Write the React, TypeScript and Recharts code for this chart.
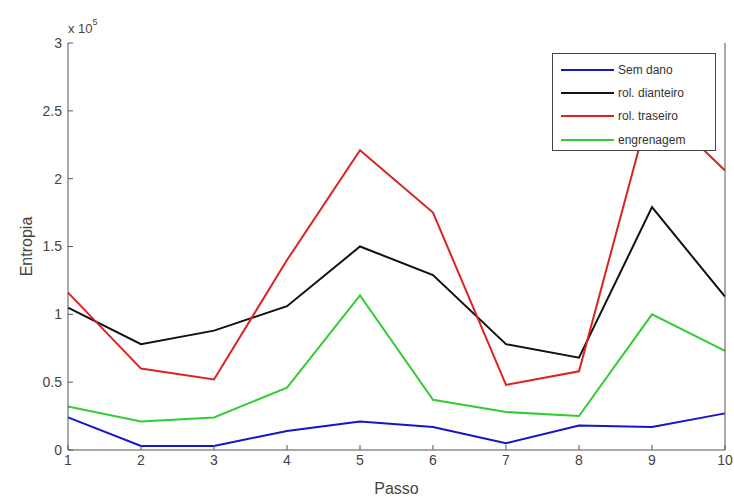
import React from 'react';
import { LineChart, Line, XAxis, YAxis, Legend, Label } from 'recharts';

const passo = [1, 2, 3, 4, 5, 6, 7, 8, 9, 10];
const semDano = [0.24, 0.03, 0.03, 0.14, 0.21, 0.17, 0.05, 0.18, 0.17, 0.27];
const rolDianteiro = [1.05, 0.78, 0.88, 1.06, 1.5, 1.29, 0.78, 0.68, 1.79, 1.13];
const rolTraseiro = [1.16, 0.6, 0.52, 1.4, 2.21, 1.75, 0.48, 0.58, 2.58, 2.06];
const engrenagem = [0.32, 0.21, 0.24, 0.46, 1.14, 0.37, 0.28, 0.25, 1.0, 0.73];
const yTicks = [0, 0.5, 1, 1.5, 2, 2.5, 3];

const series = [
  { key: 'semDano', name: 'Sem dano', color: '#1515cc' },
  { key: 'rolDianteiro', name: 'rol. dianteiro', color: '#111111' },
  { key: 'rolTraseiro', name: 'rol. traseiro', color: '#dd2222' },
  { key: 'engrenagem', name: 'engrenagem', color: '#33cc33' },
];

const data = passo.map((p, i) => ({
  passo: p,
  semDano: semDano[i],
  rolDianteiro: rolDianteiro[i],
  rolTraseiro: rolTraseiro[i],
  engrenagem: engrenagem[i],
}));

const font = '"Liberation Sans", Arial, sans-serif';
const axisColor = '#555';

const LegendBox = () => (
  <div
    style={{
      border: '1px solid #444',
      background: '#fff',
      width: 164,
      height: 98,
      boxSizing: 'border-box',
      paddingTop: 4,
      fontFamily: font,
      fontSize: 12,
      color: '#333',
    }}
  >
    {series.map((s) => (
      <div key={s.key} style={{ display: 'flex', alignItems: 'center', height: 23.3 }}>
        <div style={{ width: 53, height: 2, background: s.color, marginLeft: 8, marginRight: 4 }} />
        <span>{s.name}</span>
      </div>
    ))}
  </div>
);

export default function App() {
  return (
    <div style={{ position: 'absolute', left: 0, top: 0, width: 734, height: 497, background: '#fff' }}>
      <div
        style={{
          position: 'absolute',
          left: 68,
          top: 21,
          fontFamily: font,
          fontSize: 13,
          color: '#444',
        }}
      >
        x 10<sup style={{ fontSize: 9, verticalAlign: 'top', position: 'relative', top: -4 }}>5</sup>
      </div>
      <LineChart width={734} height={497} data={data} margin={{ top: 43, right: 0, bottom: 0, left: 0 }}>
        <XAxis
          xAxisId="b"
          dataKey="passo"
          type="number"
          domain={[1, 10]}
          ticks={passo}
          interval={0}
          height={47}
          tickSize={-5}
          tickMargin={10}
          axisLine={{ stroke: axisColor }}
          tickLine={{ stroke: axisColor }}
          tick={{ fill: '#444', fontSize: 14, fontFamily: font }}
        >
          <Label
            value="Passo"
            position="insideBottom"
            offset={3}
            style={{ fill: '#444', fontSize: 16, fontFamily: font }}
          />
        </XAxis>
        <XAxis
          xAxisId="t"
          orientation="top"
          dataKey="passo"
          type="number"
          domain={[1, 10]}
          ticks={passo}
          interval={0}
          height={0}
          tickSize={-5}
          tick={false}
          axisLine={{ stroke: axisColor }}
          tickLine={{ stroke: axisColor }}
        />
        <YAxis
          yAxisId="l"
          type="number"
          domain={[0, 3]}
          ticks={yTicks}
          interval={0}
          width={68}
          tickSize={-5}
          tickMargin={11}
          axisLine={{ stroke: axisColor }}
          tickLine={{ stroke: axisColor }}
          tick={{ fill: '#444', fontSize: 14, fontFamily: font }}
        >
          <Label
            value="Entropia"
            angle={-90}
            position="insideLeft"
            offset={26}
            style={{ fill: '#444', fontSize: 16, fontFamily: font, textAnchor: 'middle' }}
          />
        </YAxis>
        <YAxis
          yAxisId="r"
          orientation="right"
          type="number"
          domain={[0, 3]}
          ticks={yTicks}
          interval={0}
          width={9}
          tickSize={-5}
          tick={false}
          axisLine={{ stroke: axisColor }}
          tickLine={{ stroke: axisColor }}
        />
        <Legend
          layout="vertical"
          align="center"
          verticalAlign="middle"
          content={<LegendBox />}
          wrapperStyle={{ position: 'absolute', left: 552, top: 53, width: 164, height: 98 }}
        />
        {series.map((s) => (
          <Line
            key={s.key}
            xAxisId="b"
            yAxisId="l"
            dataKey={s.key}
            name={s.name}
            stroke={s.color}
            strokeWidth={2}
            dot={false}
            activeDot={false}
            isAnimationActive={false}
          />
        ))}
      </LineChart>
    </div>
  );
}
